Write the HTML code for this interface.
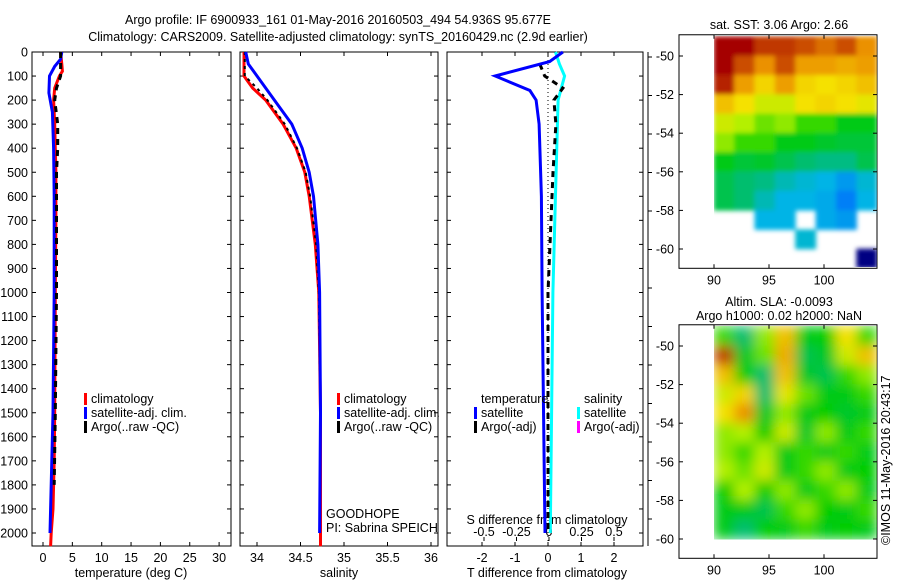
<!DOCTYPE html>
<html><head><meta charset="utf-8"><style>
html,body{margin:0;padding:0;background:#fff;}
svg{display:block;font-family:"Liberation Sans",sans-serif;}
text{font-size:12.5px;fill:#000;}
</style></head><body>
<svg id="fig" width="900" height="580" viewBox="0 0 900 580">
<defs><filter id="blur" x="0" y="0" width="1" height="1"><feGaussianBlur stdDeviation="6" edgeMode="duplicate"/></filter>
<filter id="blur2" x="0" y="0" width="1" height="1"><feGaussianBlur stdDeviation="2.5"/></filter>
<clipPath id="clipTop"><rect x="714" y="35" width="163" height="232"/></clipPath>
<clipPath id="clipBot"><rect x="714" y="325" width="163" height="215"/></clipPath></defs>
<text x="338" y="24" text-anchor="middle">Argo profile: IF 6900933_161 01-May-2016 20160503_494 54.936S 95.677E</text>
<text x="338" y="41" text-anchor="middle">Climatology: CARS2009. Satellite-adjusted climatology: synTS_20160429.nc (2.9d earlier)</text>
<g id="g"></g>
</svg>
<script>
// ---------- data ----------
const depthTicks=[0,100,200,300,400,500,600,700,800,900,1000,1100,1200,1300,1400,1500,1600,1700,1800,1900,2000];
const tempTicks=[0,5,10,15,20,25,30];
const salTicks=[34,34.5,35,35.5,36];
const tdiffTicks=[-2,-1,0,1,2];
const sdiffTicks=[-0.5,-0.25,0,0.25,0.5];
const sdiffTickLabels=["-0.5","-0.25","0","0.25","0.5"];
const tClimDepth=[0,50,80,100,150,200,300,400,500,700,1000,1500,1700,1900,2000,2055];
const tClimVal=[3.0,3.2,3.3,2.8,2.0,1.8,2.0,2.1,2.2,2.2,2.1,2.0,1.9,1.7,1.4,1.3];
const tSatDepth=[0,30,60,100,170,250,400,600,1000,1500,1900,2000];
const tSatVal=[3.2,3.0,2.0,1.1,1.0,1.6,1.8,1.9,1.9,1.7,1.3,1.2];
const tArgoDepth=[0,100,150,200,300,400,500,1000,1500,1800];
const tArgoVal=[3.0,3.0,2.3,2.0,2.5,2.5,2.3,2.3,2.1,1.9];
const sClimDepth=[0,100,150,200,300,400,500,600,800,1000,1500,2000,2055];
const sClimVal=[33.85,33.85,33.95,34.1,34.3,34.45,34.55,34.6,34.67,34.71,34.73,34.73,34.73];
const sSatDepth=[0,50,100,200,300,400,500,600,800,1000,1500,2000];
const sSatVal=[33.87,33.9,34.0,34.2,34.4,34.52,34.6,34.65,34.7,34.72,34.73,34.72];
const sArgoDepth=[0,100,150,200,300,400,500,600,800,1000,1500,1750];
const sArgoVal=[33.86,33.86,34.0,34.12,34.32,34.46,34.56,34.61,34.68,34.71,34.73,34.73];
const dTSatDepth=[0,40,100,160,200,300,600,1000,2000];
const dTSatVal=[0.45,0.05,-1.6,-0.55,-0.36,-0.27,-0.2,-0.18,-0.09];
const dTArgoDepth=[50,100,150,200,300,500,1000,1500,2000];
const dTArgoVal=[-0.25,-0.1,0.45,0.18,0.24,0.15,0.0,0.0,0.0];
const dSSatDepth=[0,50,100,200,500,1000,2000];
const dSSatVal=[0.05,0.08,0.12,0.07,0.055,0.03,0.01];
const sstGrid=[
[0.95,0.95,0.9,0.9,0.88,0.85,0.88,0.82],
[0.95,0.88,0.82,0.88,0.8,0.8,0.78,0.8],
[0.92,0.8,0.72,0.8,0.72,0.7,0.72,0.75],
[0.75,0.7,0.65,0.65,0.7,0.72,0.7,0.68],
[0.65,0.62,0.58,0.6,0.55,0.55,0.5,0.5],
[0.6,0.55,0.55,0.5,0.5,0.48,0.47,0.47],
[0.5,0.47,0.48,0.45,0.42,0.4,0.4,0.45],
[0.45,0.42,0.4,0.35,0.32,0.3,0.25,0.32],
[0.45,0.42,0.35,0.3,0.3,0.28,0.2,0.3],
[null,null,0.3,0.3,null,0.28,0.25,null],
[null,null,null,null,0.32,null,null,null],
[null,null,null,null,null,null,null,0.0]];
const slaGrid=[
[0.55,0.42,0.6,0.75,0.5,0.52,0.7,0.55],
[0.9,0.48,0.58,0.78,0.45,0.48,0.65,0.75],
[0.75,0.52,0.42,0.75,0.48,0.45,0.55,0.6],
[0.65,0.72,0.42,0.68,0.58,0.5,0.5,0.55],
[0.7,0.82,0.48,0.6,0.5,0.52,0.48,0.5],
[0.6,0.62,0.52,0.65,0.48,0.6,0.5,0.55],
[0.6,0.55,0.62,0.5,0.55,0.5,0.55,0.5],
[0.62,0.58,0.65,0.5,0.55,0.6,0.5,0.52],
[0.52,0.62,0.52,0.6,0.5,0.55,0.6,0.5],
[0.5,0.5,0.45,0.55,0.6,0.52,0.5,0.55],
[0.5,0.42,0.52,0.5,0.55,0.5,0.52,0.5]];
const mapLonTicks=[90,95,100];
const mapLatTicks=[-50,-52,-54,-56,-58,-60];

// ---------- helpers ----------
const NS="http://www.w3.org/2000/svg";
const G=document.getElementById('g');
function mk(tag,attrs,parent){const e=document.createElementNS(NS,tag);for(const k in attrs)e.setAttribute(k,attrs[k]);(parent||G).appendChild(e);return e;}
const yTop=52,yPer=0.2405;
const yD=d=>yTop+d*yPer;
const xT=v=>43+v*5.87;
const xS=v=>257+(v-34)*87;
const xDT=v=>548+v*33;
const xDS=v=>549+v*130;
function line(depths,vals,fx,color,w,dash,name){
  const p=depths.map((d,i)=>(i?'L':'M')+fx(vals[i]).toFixed(1)+','+yD(d).toFixed(1)).join('');
  const e=mk('path',{d:p,fill:'none',stroke:color,'stroke-width':w});
  if(dash)e.setAttribute('stroke-dasharray',dash);
  
  
}
function panel(x0,x1,name){
  const b=mk('rect',{x:x0,y:52,width:x1-x0,height:494,fill:'none',stroke:'#000','stroke-width':1});
  
  
}
function txt(x,y,s,anchor,name){const t=mk('text',{x:x,y:y,'text-anchor':anchor||'start'});t.textContent=s;
  
  return t;}

panel(32,231,'temperature-panel');panel(240,438,'salinity-panel');panel(447,643,'difference-panel');
depthTicks.forEach(d=>{
  const y=yD(d);
  mk('line',{x1:32,y1:y,x2:36,y2:y,stroke:'#000'});mk('line',{x1:227,y1:y,x2:231,y2:y,stroke:'#000'});
  mk('line',{x1:240,y1:y,x2:244,y2:y,stroke:'#000'});mk('line',{x1:434,y1:y,x2:438,y2:y,stroke:'#000'});
  mk('line',{x1:447,y1:y,x2:451,y2:y,stroke:'#000'});mk('line',{x1:639,y1:y,x2:643,y2:y,stroke:'#000'});
  txt(28,y+4.5,String(d),'end','depth-tick-label');
});
tempTicks.forEach(v=>{const x=xT(v);mk('line',{x1:x,y1:52,x2:x,y2:56,stroke:'#000'});mk('line',{x1:x,y1:542,x2:x,y2:546,stroke:'#000'});txt(x,562,String(v),'middle','temperature-tick-label');});
salTicks.forEach(v=>{const x=xS(v);mk('line',{x1:x,y1:52,x2:x,y2:56,stroke:'#000'});mk('line',{x1:x,y1:542,x2:x,y2:546,stroke:'#000'});txt(x,562,String(v),'middle','salinity-tick-label');});
tdiffTicks.forEach(v=>{const x=xDT(v);mk('line',{x1:x,y1:52,x2:x,y2:56,stroke:'#000'});mk('line',{x1:x,y1:542,x2:x,y2:546,stroke:'#000'});txt(x,562,String(v),'middle','tdiff-tick-label');});
sdiffTicks.forEach((v,i)=>{const x=xDS(v);mk('line',{x1:x,y1:537,x2:x,y2:541,stroke:'#000'});txt(x,536,sdiffTickLabels[i],'middle','sdiff-tick-label');});
txt(131,577,'temperature (deg C)','middle','x-axis-title-temperature');
txt(339,577,'salinity','middle','x-axis-title-salinity');
txt(547,577,'T difference from climatology','middle','x-axis-title-tdiff');
txt(547,524,'S difference from climatology','middle','x-axis-title-sdiff');

mk('line',{x1:648,y1:52,x2:648,y2:546,stroke:'#000'});
for(let y=57;y<546;y+=38.5)mk('line',{x1:648,y1:y,x2:652,y2:y,stroke:'#000'});

line(tClimDepth,tClimVal,xT,'#ff0000',3,null,'temp-climatology-line');
line(tSatDepth,tSatVal,xT,'#0000ff',3,null,'temp-satellite-line');
line(tArgoDepth,tArgoVal,xT,'#000',3,'6,5','temp-argo-line');
line(sClimDepth,sClimVal,xS,'#ff0000',3,null,'sal-climatology-line');
line(sArgoDepth,sArgoVal,xS,'#000',2,'3,4','sal-argo-line');
line(sSatDepth,sSatVal,xS,'#0000ff',3,null,'sal-satellite-line');
mk('line',{x1:548,y1:52,x2:548,y2:546,stroke:'#000','stroke-dasharray':'1,3'});
line(dSSatDepth,dSSatVal,xDS,'#00ffff',3,null,'sdiff-satellite-line');
line(dTArgoDepth,dTArgoVal,xDT,'#000',3,'6,5','tdiff-argo-line');
line(dTSatDepth,dTSatVal,xDT,'#0000ff',3,null,'tdiff-satellite-line');

function legItem(x,y,c,s,name){mk('rect',{x:x,y:y-10,width:3,height:12,fill:c});txt(x+7,y,s,'start',name);}
legItem(84,403,'#ff0000','climatology','legend-climatology');
legItem(84,417,'#0000ff','satellite-adj. clim.','legend-satellite');
legItem(84,431,'#000','Argo(..raw -QC)','legend-argo');
legItem(337,403,'#ff0000','climatology','legend-climatology-sal');
legItem(337,417,'#0000ff','satellite-adj. clim.','legend-satellite-sal');
legItem(337,431,'#000','Argo(..raw -QC)','legend-argo-sal');
txt(481,403,'temperature','start','legend-temperature-header');
txt(584,403,'salinity','start','legend-salinity-header');
legItem(474,417,'#0000ff','satellite','legend-t-satellite');
legItem(474,431,'#000','Argo(-adj)','legend-t-argo');
legItem(577,417,'#00ffff','satellite','legend-s-satellite');
legItem(577,431,'#ff00ff','Argo(-adj)','legend-s-argo');
txt(326,518,'GOODHOPE','start','float-project-label');
txt(326,532,'PI: Sabrina SPEICH','start','float-pi-label');

// colormap
const cmStops=[[0,0,0,130],[0.15,0,100,255],[0.3,0,180,230],[0.42,0,190,110],[0.52,0,205,0],[0.62,180,240,0],[0.7,245,225,0],[0.82,235,145,0],[0.95,165,0,0],[1,150,0,0]];
function cmap(v){for(let i=1;i<cmStops.length;i++){if(v<=cmStops[i][0]){const a=cmStops[i-1],b=cmStops[i],t=(v-a[0])/(b[0]-a[0]);return `rgb(${Math.round(a[1]+t*(b[1]-a[1]))},${Math.round(a[2]+t*(b[2]-a[2]))},${Math.round(a[3]+t*(b[3]-a[3]))})`;}}return 'rgb(150,0,0)';}
const lonX=l=>714+(l-90)*11;
function drawMap(y50,grid,clip,blur,title1,title2,name){
  const latY=l=>y50+(-50-l)*19.3;
  const boxTop=latY(-48.9),boxBot=latY(-61);
  const b=mk('rect',{x:679,y:boxTop,width:198,height:boxBot-boxTop,fill:'#fff',stroke:'#000'});
  
  
  const gg=mk('g',{'clip-path':`url(#${clip})`});
  const inner=mk('g',{filter:blur?'url(#blur)':'url(#blur2)'},gg);
  const cw=163/grid[0].length;
  grid.forEach((row,r)=>row.forEach((v,c)=>{if(v===null)return;
    const cell=mk('rect',{x:714+c*cw-0.3,y:latY(-49-r)-0.3,width:cw+0.6,height:19.9,fill:cmap(v)},inner);
    
    }));
  mapLatTicks.forEach(l=>{const y=latY(l);mk('line',{x1:679,y1:y,x2:683,y2:y,stroke:'#000'});mk('line',{x1:873,y1:y,x2:877,y2:y,stroke:'#000'});txt(674,y+4.5,String(l),'end',name+'-lat-label');});
  mapLonTicks.forEach(l=>{const x=lonX(l);mk('line',{x1:x,y1:boxTop,x2:x,y2:boxTop+4,stroke:'#000'});mk('line',{x1:x,y1:boxBot-4,x2:x,y2:boxBot,stroke:'#000'});txt(x,boxBot+16,String(l),'middle',name+'-lon-label');});
  if(title2){txt(779,boxTop-19,title1,'middle',name+'-title');txt(779,boxTop-5,title2,'middle',name+'-subtitle');}
  else txt(779,boxTop-6,title1,'middle',name+'-title');
}
drawMap(56,sstGrid,'clipTop',false,'sat. SST: 3.06 Argo: 2.66',null,'sst-map');
drawMap(346,slaGrid,'clipBot',true,'Altim. SLA: -0.0093','Argo h1000: 0.02 h2000: NaN','sla-map');
const st=mk('text',{x:0,y:0,transform:'translate(890,545) rotate(-90)'});
st.textContent='©IMOS 11-May-2016 20:43:17';


</script>
</body></html>
